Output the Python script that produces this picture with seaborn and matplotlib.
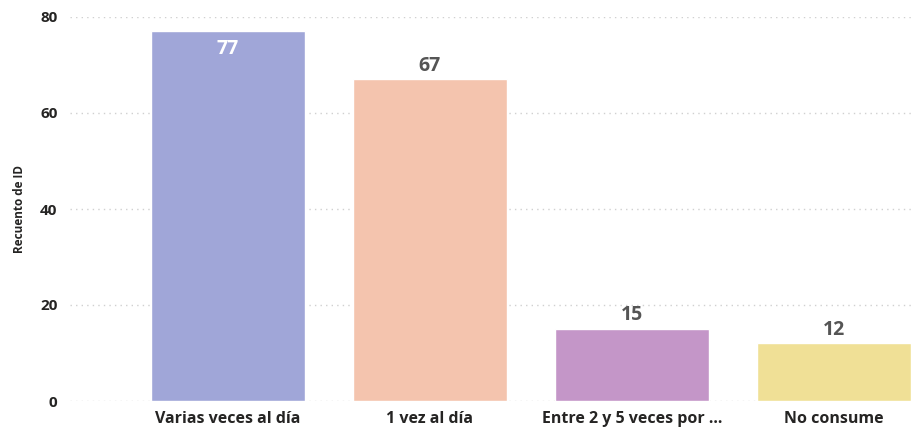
import matplotlib
matplotlib.use("Agg")
import matplotlib.pyplot as plt
import seaborn as sns
import pandas as pd

categories = ["Varias veces al día", "1 vez al día", "Entre 2 y 5 veces por ...", "No consume"]
values = [77, 67, 15, 12]
colors = ["#A0A6D8", "#F4C4AE", "#C496C8", "#F0E096"]
yticks = [0, 20, 40, 60, 80]

sns.set_style("white")
plt.rcParams['font.family'] = ['Open Sans', 'DejaVu Sans']

df = pd.DataFrame({"cat": categories, "val": values})
fig = plt.figure(figsize=(9.12, 4.36), dpi=100)
ax = fig.add_axes([70/912, 35/436, (912-70)/912, 384/436])
sns.barplot(data=df, x="cat", y="val", hue="cat", palette=colors, legend=False,
            width=0.762, ax=ax, saturation=1)
ax.set_xlim(-0.782, 3.386)
ax.set_ylim(0, 80)
ax.set_yticks(yticks)
ax.set_yticklabels([str(t) for t in yticks], fontsize=11, fontweight='bold', color='#252423')
ax.yaxis.grid(True, linestyle=(0, (1, 3)), color='#D0D0D0', linewidth=1)
ax.set_axisbelow(True)
for s in ax.spines.values():
    s.set_visible(False)
ax.tick_params(axis='both', length=0)
ax.tick_params(axis='y', pad=9)
ax.tick_params(axis='x', pad=7)
ax.set_xticks(range(len(categories)))
ax.set_xticklabels(categories, fontsize=11.5, fontweight='bold', color='#252423')
ax.set_xlabel("")
ax.set_ylabel("Recuento de ID", fontsize=8.5, fontweight='bold', color='#252423', labelpad=10)

for i, v in enumerate(values):
    if v > 72:
        ax.text(i, v - 1.6, str(v), ha='center', va='top', fontsize=14, fontweight='bold', color='white')
    else:
        ax.text(i, v + 0.8, str(v), ha='center', va='bottom', fontsize=14, fontweight='bold', color='#555555')

fig.savefig("out.png", dpi=100)
